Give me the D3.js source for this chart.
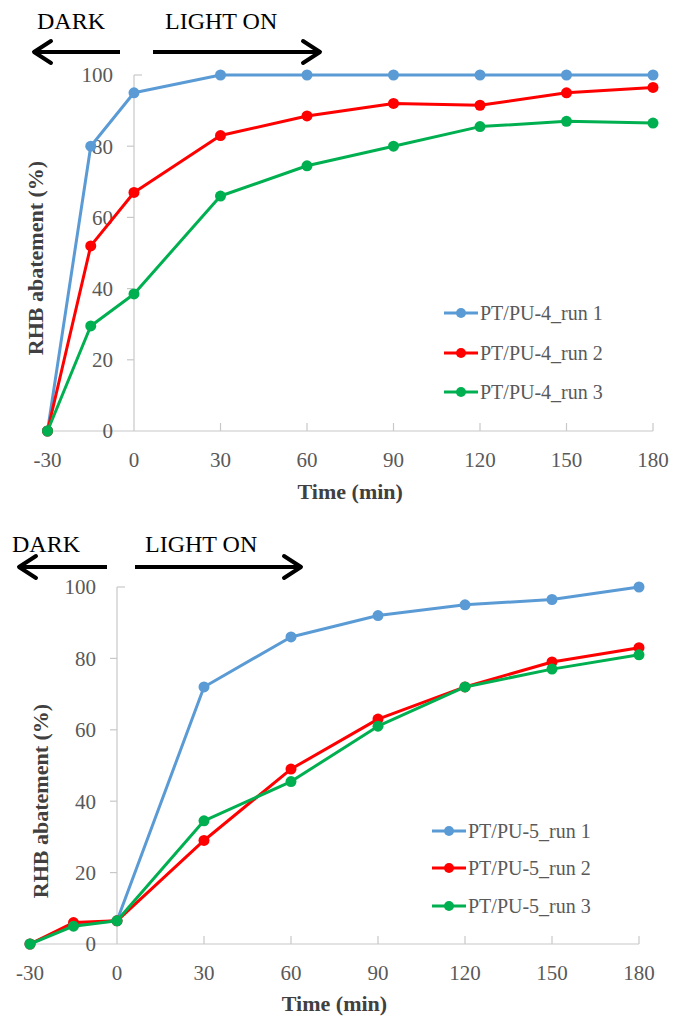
<!DOCTYPE html>
<html>
<head>
<meta charset="utf-8">
<script src="https://cdn.jsdelivr.net/npm/d3@7"></script>
<style>
  html, body { margin: 0; padding: 0; background: #fff; }
  svg { display: block; }
</style>
</head>
<body>
<svg id="chart" width="682" height="1027"></svg>
<script>
// ---- Data ----
const times = [-30, -15, 0, 30, 60, 90, 120, 150, 180];
const xTicks = [-30, 0, 30, 60, 90, 120, 150, 180];
const yTicks = [0, 20, 40, 60, 80, 100];

const seriesNames4 = ["PT/PU-4_run 1", "PT/PU-4_run 2", "PT/PU-4_run 3"];
const pu4_run1 = [0, 80, 95, 100, 100, 100, 100, 100, 100];
const pu4_run2 = [0, 52, 67, 83, 88.5, 92, 91.5, 95, 96.5];
const pu4_run3 = [0, 29.5, 38.5, 66, 74.5, 80, 85.5, 87, 86.5];

const seriesNames5 = ["PT/PU-5_run 1", "PT/PU-5_run 2", "PT/PU-5_run 3"];
const pu5_run1 = [0, 5.5, 6.5, 72, 86, 92, 95, 96.5, 100];
const pu5_run2 = [0, 6, 6.5, 29, 49, 63, 72, 79, 83];
const pu5_run3 = [0, 5, 6.5, 34.5, 45.5, 61, 72, 77, 81];

const colors = ["#5B9BD5", "#FF0000", "#00B050"];
const xTitle = "Time (min)";
const yTitle = "RHB abatement (%)";
const darkLabel = "DARK";
const lightLabel = "LIGHT ON";

const FONT = "Liberation Serif";

// ---- Layout ----
const panels = [
  { names: seriesNames4, series: [pu4_run1, pu4_run2, pu4_run3],
    x0: 47.5, x1: 653, yTop: 75, yBot: 431,
    labelY: 460, titleY: 491, yTitleX: 35, yTitleY: 258,
    legX: 461, legY: [313, 353, 392],
    annY: 29, arrowY: 52, darkX: 37, lightX: 165,
    leftArrow: [32, 120], rightArrow: [153, 322] },
  { names: seriesNames5, series: [pu5_run1, pu5_run2, pu5_run3],
    x0: 30, x1: 639, yTop: 587, yBot: 944,
    labelY: 973, titleY: 1003, yTitleX: 40, yTitleY: 801,
    legX: 449, legY: [831, 868, 906],
    annY: 552, arrowY: 567, darkX: 12, lightX: 145,
    leftArrow: [17, 107], rightArrow: [135, 303] }
];

const svg = d3.select("#chart");
svg.append("rect").attr("width", 682).attr("height", 1027).attr("fill", "#fff");

const axisColor = "#C8C8C8";
const tickTextColor = "#595959";

panels.forEach(p => {
  const g = svg.append("g").attr("font-family", FONT);
  const x = d3.scaleLinear().domain([-30, 180]).range([p.x0, p.x1]);
  const y = d3.scaleLinear().domain([0, 100]).range([p.yBot, p.yTop]);

  // y axis line
  g.append("line").attr("x1", x(0)).attr("x2", x(0))
    .attr("y1", y(0)).attr("y2", y(100))
    .attr("stroke", axisColor).attr("stroke-width", 1.2);
  // y ticks
  yTicks.forEach(t => {
    if (t === 100) {
      g.append("line").attr("x1", x(0)).attr("x2", x(0) + 8)
        .attr("y1", y(t)).attr("y2", y(t)).attr("stroke", axisColor).attr("stroke-width", 1.2);
    } else if (t > 0) {
      g.append("line").attr("x1", x(0) - 7).attr("x2", x(0))
        .attr("y1", y(t)).attr("y2", y(t)).attr("stroke", axisColor).attr("stroke-width", 1.2);
    }
  });
  // x axis line
  g.append("line").attr("x1", x(-30)).attr("x2", x(180))
    .attr("y1", y(0)).attr("y2", y(0))
    .attr("stroke", axisColor).attr("stroke-width", 1.2);
  xTicks.filter(t => t > 0).forEach(t => {
    g.append("line").attr("x1", x(t)).attr("x2", x(t))
      .attr("y1", y(0)).attr("y2", y(0) - 8)
      .attr("stroke", axisColor).attr("stroke-width", 1.2);
  });

  // y tick labels
  g.selectAll(".ylab").data(yTicks).enter().append("text")
    .attr("x", x(0) - 21).attr("y", d => y(d))
    .attr("dy", "0.35em").attr("text-anchor", "end")
    .attr("font-family", FONT)
    .attr("font-size", 21).attr("fill", tickTextColor)
    .text(d => d);
  // x tick labels
  g.selectAll(".xlab").data(xTicks).enter().append("text")
    .attr("x", d => x(d)).attr("y", p.labelY)
    .attr("dy", "0.35em").attr("text-anchor", "middle")
    .attr("font-family", FONT)
    .attr("font-size", 21).attr("fill", tickTextColor)
    .text(d => d);

  // axis titles
  g.append("text").attr("x", (p.x0 + p.x1) / 2).attr("y", p.titleY)
    .attr("dy", "0.35em").attr("text-anchor", "middle")
    .attr("font-family", FONT)
    .attr("font-size", 22).attr("font-weight", "bold").attr("fill", "#404040")
    .text(xTitle);
  g.append("text")
    .attr("transform", `translate(${p.yTitleX},${p.yTitleY}) rotate(-90)`)
    .attr("dy", "0.35em").attr("text-anchor", "middle")
    .attr("font-family", FONT)
    .attr("font-size", 22).attr("font-weight", "bold").attr("fill", "#404040")
    .text(yTitle);

  // series
  const line = d3.line().x((d, i) => x(times[i])).y(d => y(d));
  p.series.forEach((s, k) => {
    g.append("path").datum(s).attr("d", line)
      .attr("fill", "none").attr("stroke", colors[k])
      .attr("stroke-width", 3).attr("stroke-linejoin", "round");
    g.selectAll(".pt" + k).data(s).enter().append("circle")
      .attr("cx", (d, i) => x(times[i])).attr("cy", d => y(d))
      .attr("r", 5.5).attr("fill", colors[k]);
  });

  // legend
  p.names.forEach((n, k) => {
    const ly = p.legY[k];
    g.append("line").attr("x1", p.legX - 17).attr("x2", p.legX + 17)
      .attr("y1", ly).attr("y2", ly).attr("stroke", colors[k]).attr("stroke-width", 3);
    g.append("circle").attr("cx", p.legX).attr("cy", ly).attr("r", 5).attr("fill", colors[k]);
    g.append("text").attr("x", p.legX + 19).attr("y", ly).attr("dy", "0.35em")
      .attr("font-family", FONT)
      .attr("font-size", 20).attr("fill", tickTextColor).text(n);
  });

  // annotations
  g.append("text").attr("x", p.darkX).attr("y", p.annY)
    .attr("font-family", FONT)
    .attr("font-size", 24).attr("fill", "#000").text(darkLabel);
  g.append("text").attr("x", p.lightX).attr("y", p.annY)
    .attr("font-family", FONT)
    .attr("font-size", 24).attr("fill", "#000").text(lightLabel);
  const ay = p.arrowY;
  // left arrow
  g.append("line").attr("x1", p.leftArrow[0] + 1).attr("x2", p.leftArrow[1])
    .attr("y1", ay).attr("y2", ay).attr("stroke", "#000").attr("stroke-width", 4);
  g.append("path")
    .attr("d", `M${p.leftArrow[0] + 19},${ay - 11} L${p.leftArrow[0] + 2},${ay} L${p.leftArrow[0] + 19},${ay + 11}`)
    .attr("fill", "none").attr("stroke", "#000").attr("stroke-width", 4)
    .attr("stroke-linecap", "round").attr("stroke-linejoin", "round");
  // right arrow
  g.append("line").attr("x1", p.rightArrow[0]).attr("x2", p.rightArrow[1] - 1)
    .attr("y1", ay).attr("y2", ay).attr("stroke", "#000").attr("stroke-width", 4);
  g.append("path")
    .attr("d", `M${p.rightArrow[1] - 19},${ay - 11} L${p.rightArrow[1] - 2},${ay} L${p.rightArrow[1] - 19},${ay + 11}`)
    .attr("fill", "none").attr("stroke", "#000").attr("stroke-width", 4)
    .attr("stroke-linecap", "round").attr("stroke-linejoin", "round");
});
</script>
</body>
</html>
